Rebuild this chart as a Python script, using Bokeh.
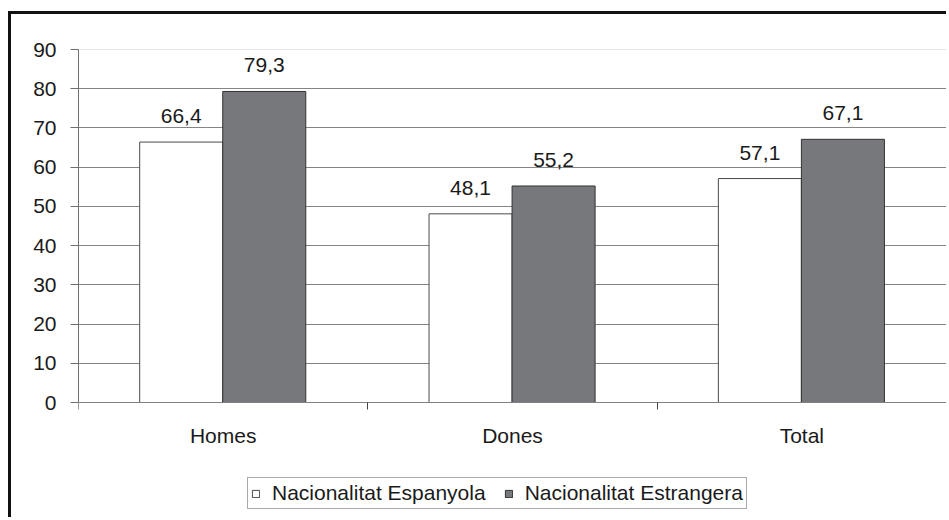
from bokeh.plotting import figure
from bokeh.models import (ColumnDataSource, FixedTicker, Legend, LegendItem, LabelSet,
                          Range1d, Span)
from bokeh.core.properties import value
from bokeh.embed import file_html
from bokeh.resources import INLINE

# ---- data ----
categories = ["Homes", "Dones", "Total"]
espanyola = [66.4, 48.1, 57.1]
estrangera = [79.3, 55.2, 67.1]
series_names = ["Nacionalitat Espanyola", "Nacionalitat Estrangera"]
y_ticks = [0, 10, 20, 30, 40, 50, 60, 70, 80, 90]

FONT = "Liberation Sans"
FS = "21px"
TXT = "#1a1a1a"

# ---- layout (pixels) ----
W, H = 938, 506
B_LEFT, B_RIGHT, B_TOP, B_BOTTOM = 67, 3, 35, 3
PLOT_H = 353            # pixel height from value 0 to value 90
frame_h = H - B_TOP - B_BOTTOM
y_max = y_ticks[-1]
y_min = -y_max * (frame_h - PLOT_H) / PLOT_H   # room under the axis for labels/legend

idx = list(range(len(categories)))
bar_w = 0.287
off_a = 0.355
off_b = 0.642

src_a = ColumnDataSource(dict(
    x=[i + off_a for i in idx], top=espanyola,
    lab=[f"{v:.1f}".replace(".", ",") for v in espanyola]))
src_b = ColumnDataSource(dict(
    x=[i + off_b for i in idx], top=estrangera,
    lab=[f"{v:.1f}".replace(".", ",") for v in estrangera]))
src_c = ColumnDataSource(dict(x=[i + 0.5 for i in idx], y=[0] * len(idx), lab=categories))

p = figure(width=W, height=H, output_backend="svg", toolbar_location=None,
           x_range=Range1d(0, len(categories)), y_range=Range1d(y_min, y_max),
           min_border_left=B_LEFT, min_border_right=B_RIGHT,
           min_border_top=B_TOP, min_border_bottom=B_BOTTOM)
p.styles = {"border-left": "3px solid #111", "border-top": "3px solid #111",
            "margin-top": "11px", "margin-left": "8px"}
p.outline_line_color = None
p.background_fill_color = "white"
p.border_fill_color = "white"

# grid
p.xgrid.visible = False
p.ygrid.ticker = FixedTicker(ticks=y_ticks[1:-1])
p.ygrid.grid_line_color = "#858585"
p.ygrid.grid_line_width = 1
p.add_layout(Span(location=y_ticks[-1], dimension="width", line_color="#cfcfcf",
                  line_width=1, level="underlay"))

# bars
ra = p.vbar(x="x", top="top", width=bar_w, source=src_a, fill_color="white",
            line_color="#4a4a4a", line_width=1)
rb = p.vbar(x="x", top="top", width=bar_w, source=src_b, fill_color="#77787c",
            line_color="#333333", line_width=1)

# value labels
for s in (src_a, src_b):
    p.add_layout(LabelSet(x="x", y="top", text="lab", source=s, y_offset=19,
                          text_align="center", text_baseline="alphabetic",
                          text_font=value(FONT), text_font_size=value(FS),
                          text_color=TXT))

# category labels under the axis
p.add_layout(LabelSet(x="x", y="y", text="lab", source=src_c, y_offset=-40,
                      text_align="center", text_baseline="alphabetic",
                      text_font=value(FONT), text_font_size=value(FS), text_color=TXT))

# y axis
ya = p.yaxis[0]
ya.ticker = FixedTicker(ticks=y_ticks)
ya.bounds = (y_ticks[0], y_ticks[-1])
ya.axis_line_color = "#707070"
ya.major_tick_line_color = "#707070"
ya.major_tick_out = 8
ya.major_tick_in = 0
ya.minor_tick_line_color = None
ya.major_label_standoff = 14
ya.major_label_text_font = FONT
ya.major_label_text_font_size = FS
ya.major_label_text_color = TXT

# x axis at value 0, ticks at category boundaries
xa = p.xaxis[0]
xa.fixed_location = 0
xa.ticker = FixedTicker(ticks=[], minor_ticks=list(range(len(categories) + 1)))
xa.axis_line_color = "#808080"
xa.major_tick_line_color = None
xa.major_tick_out = 0
xa.major_tick_in = 0
xa.minor_tick_line_color = "#404040"
xa.minor_tick_out = 7
xa.minor_tick_in = 0
xa.major_label_standoff = 0

# legend
legend = Legend(items=[LegendItem(label=series_names[0], renderers=[ra]),
                       LegendItem(label=series_names[1], renderers=[rb])],
                orientation="horizontal", location=(169, 8),
                label_text_font=FONT, label_text_font_size=FS, label_text_color=TXT,
                glyph_width=9, glyph_height=9, label_standoff=12, spacing=18,
                padding=3, margin=0, border_line_color="#555555", border_line_width=1,
                background_fill_color="white", background_fill_alpha=1.0)
p.add_layout(legend, "center")

open("out.html", "w").write(file_html(p, INLINE))
